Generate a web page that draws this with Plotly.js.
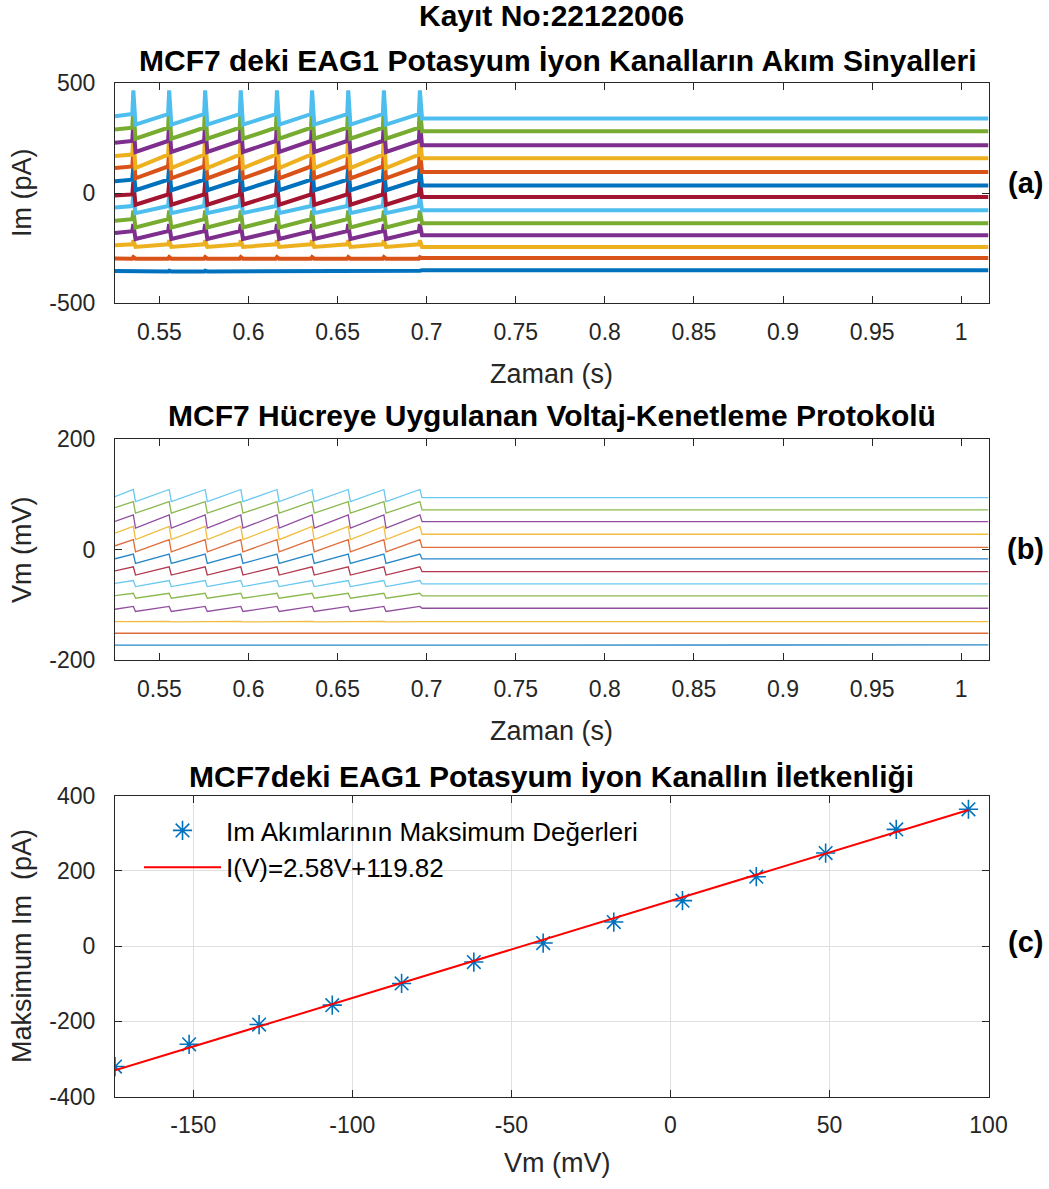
<!DOCTYPE html>
<html>
<head>
<meta charset="utf-8">
<script src="https://cdn.plot.ly/plotly-3.0.1.min.js"></script>
<style>html,body{margin:0;padding:0;background:#fff;}#chart{width:1049px;height:1189px;}</style>
</head>
<body>
<div id="chart"></div>
<script>
// ---------- DATA ----------
// Times of the fast transients in the pulse train (s)
const tSpike = [0.5354, 0.5555, 0.5757, 0.5957, 0.6160, 0.6357, 0.6560, 0.6760, 0.6962];
const tLimits = [0.5251, 1.0153];

// Panel (a): current traces, bottom to top (pA)
const imStart   = [-353, -296, -236, -180, -125, -65, -10, 55, 115, 170, 230, 290, 350];
const imRampTop = [-355, -297, -232, -172, -118, -58, -5, 62, 122, 176, 238, 298, 360];
const imPeak    = [-352, -290, -214, -140, -78, -10, 52, 125, 195, 258, 325, 395, 468];
const imTrough  = [-355, -297, -244, -208, -155, -90, -52, 14, 68, 115, 188, 248, 312];
const imFlat    = [-350, -294, -244, -191, -136, -77, -17, 36, 97, 159, 218, 282, 340];

// Panel (b): command voltage traces, bottom to top (mV)
const vStart  = [-173, -151.5, -130.5, -108, -83.5, -61, -38.5, -16.5, 7, 30, 51, 76, 96];
const vPeak   = [-173, -151.5, -130, -103, -79, -56, -31, -8, 18, 42, 63, 87, 109];
const vTrough = [-173, -151.5, -131, -112, -88, -67, -46, -25, -4, 18, 39, 66, 87];
const vFlat   = [-172.7, -151.5, -130.5, -106.2, -83.9, -62.2, -39.9, -16.9, 4.3, 27.9, 50.7, 72.0, 94.2];

// Panel (c): maximum current vs. voltage step
const vmSteps = [-174.6, -151.3, -129.3, -106.3, -84.5, -61.8, -40.0, -17.8, 3.8, 27.0, 48.8, 71.0, 93.7];
const imMax   = [-320.4, -261.2, -208.8, -157.2, -99.6, -42.7, 7.9, 63.7, 120.5, 184.2, 247.1, 309.9, 363.4];
const fitV = [-174.6, 93.7];
const fitI = [-330.6, 361.6];

// Tick labels
const tTicks = [0.55, 0.6, 0.65, 0.7, 0.75, 0.8, 0.85, 0.9, 0.95, 1];
const tTickText = ['0.55', '0.6', '0.65', '0.7', '0.75', '0.8', '0.85', '0.9', '0.95', '1'];
const imTicks = [-500, 0, 500];
const imTickText = ['-500', '0', '500'];
const vTicks = [-200, 0, 200];
const vTickText = ['-200', '0', '200'];
const cxTicks = [-150, -100, -50, 0, 50, 100];
const cxTickText = ['-150', '-100', '-50', '0', '50', '100'];
const cyTicks = [-400, -200, 0, 200, 400];
const cyTickText = ['-400', '-200', '0', '200', '400'];

// ---------- STYLE ----------
const colorOrder = ['#0072BD', '#D95319', '#EDB120', '#7E2F8E', '#77AC30', '#4DBEEE', '#A2142F'];
const W = 1049, H = 1189;
const px = v => v / W;
const py = v => 1 - v / H;
const axisColor = '#262626';
const FONT = 'Liberation Sans, Arial, Helvetica, sans-serif';

// build a pulse-train polyline from read levels
function buildTrace(start, top, peak, trough, flat) {
  const x = [tLimits[0]], y = [start];
  tSpike.forEach((t, k) => {
    x.push(t - 0.0006); y.push(top);
    x.push(t);          y.push(peak);
    x.push(t + 0.0012); y.push(k === tSpike.length - 1 ? flat : trough);
  });
  x.push(tLimits[1]); y.push(flat);
  return { x, y };
}

const traces = [];
for (let i = 0; i < imFlat.length; i++) {
  const a = buildTrace(imStart[i], imRampTop[i], imPeak[i], imTrough[i], imFlat[i]);
  traces.push({
    type: 'scatter', mode: 'lines', x: a.x, y: a.y, xaxis: 'x', yaxis: 'y',
    line: { color: colorOrder[i % 7], width: 4 }, showlegend: false, hoverinfo: 'skip'
  });
}
for (let i = 0; i < vFlat.length; i++) {
  const b = buildTrace(vStart[i], vPeak[i], vPeak[i], vTrough[i], vFlat[i]);
  traces.push({
    type: 'scatter', mode: 'lines', x: b.x, y: b.y, xaxis: 'x2', yaxis: 'y2',
    line: { color: colorOrder[i % 7], width: 1.3 }, opacity: 0.85, showlegend: false, hoverinfo: 'skip'
  });
}
traces.push({
  type: 'scatter', mode: 'markers', x: vmSteps, y: imMax, xaxis: 'x3', yaxis: 'y3',
  name: 'Im Akımlarının Maksimum Değerleri',
  marker: { symbol: 'asterisk-open', size: 16, color: '#0072BD', line: { color: '#0072BD', width: 1.6 } }
});
traces.push({
  type: 'scatter', mode: 'lines', x: fitV, y: fitI, xaxis: 'x3', yaxis: 'y3',
  name: 'I(V)=2.58V+119.82',
  line: { color: '#FF0000', width: 2 }
});

const xDom = [px(115), px(988.5)];
function axisBase(extra, isX) {
  return Object.assign({
    showline: true, linecolor: axisColor, linewidth: 1, mirror: 'ticks',
    ticks: 'inside', ticklen: 7, tickcolor: axisColor, tickwidth: 1,
    zeroline: false, showgrid: false,
    ticklabelstandoff: isX ? 8 : 14,
    tickfont: { family: FONT, size: 23, color: axisColor },
    tickmode: 'array', fixedrange: true
  }, extra);
}

const layout = {
  width: W, height: H,
  margin: { l: 0, r: 0, t: 0, b: 0 },
  paper_bgcolor: '#ffffff', plot_bgcolor: '#ffffff',
  showlegend: true,
  legend: {
    x: px(139), y: py(807), xanchor: 'left', yanchor: 'top',
    itemwidth: 77,
    bgcolor: 'rgba(255,255,255,0)', borderwidth: 0,
    font: { family: FONT, size: 26, color: '#000' }
  },
  xaxis: axisBase({ domain: xDom, anchor: 'y', range: tLimits, tickvals: tTicks, ticktext: tTickText }, true),
  yaxis: axisBase({ domain: [py(303.3), py(83.3)], anchor: 'x', range: [-500, 500], tickvals: imTicks, ticktext: imTickText }),
  xaxis2: axisBase({ domain: xDom, anchor: 'y2', range: tLimits, tickvals: tTicks, ticktext: tTickText }, true),
  yaxis2: axisBase({ domain: [py(660), py(439.3)], anchor: 'x2', range: [-200, 200], tickvals: vTicks, ticktext: vTickText }),
  xaxis3: axisBase({ domain: xDom, anchor: 'y3', range: [-174.6, 100], tickvals: cxTicks, ticktext: cxTickText,
    showgrid: true, gridcolor: '#dfdfdf' }, true),
  yaxis3: axisBase({ domain: [py(1096.5), py(795.5)], anchor: 'x3', range: [-400, 400], tickvals: cyTicks, ticktext: cyTickText,
    showgrid: true, gridcolor: '#dfdfdf' }),
  annotations: [
    { text: '<b>Kayıt No:22122006</b>', x: px(552), y: py(16), size: 30 },
    { text: '<b>MCF7 deki EAG1 Potasyum İyon Kanalların Akım Sinyalleri</b>', x: px(557), y: py(60), size: 30 },
    { text: '<b>MCF7 Hücreye Uygulanan Voltaj-Kenetleme Protokolü</b>', x: px(552), y: py(416), size: 30 },
    { text: '<b>MCF7deki EAG1 Potasyum İyon Kanallın İletkenliği</b>', x: px(552), y: py(776), size: 30 },
    { text: 'Zaman (s)', x: px(552), y: py(374), size: 27 },
    { text: 'Zaman (s)', x: px(552), y: py(731), size: 27 },
    { text: 'Vm (mV)', x: px(557), y: py(1163), size: 27 },
    { text: 'Im (pA)', x: px(22), y: py(193), size: 27, rot: -90 },
    { text: 'Vm (mV)', x: px(22), y: py(550), size: 27, rot: -90 },
    { text: 'Maksimum Im  (pA)', x: px(22), y: py(946), size: 27, rot: -90 },
    { text: '<b>(a)</b>', x: px(1025), y: py(183), size: 29 },
    { text: '<b>(b)</b>', x: px(1025), y: py(549), size: 29 },
    { text: '<b>(c)</b>', x: px(1025), y: py(942), size: 29 }
  ].map(a => ({
    text: a.text, x: a.x, y: a.y, xref: 'paper', yref: 'paper',
    xanchor: 'center', yanchor: 'middle', showarrow: false, textangle: a.rot || 0,
    font: { family: FONT, size: a.size, color: a.text.indexOf('<b>') === 0 ? '#000' : axisColor }
  }))
};

Plotly.newPlot('chart', traces, layout, { staticPlot: true, displayModeBar: false });
</script>
</body>
</html>
